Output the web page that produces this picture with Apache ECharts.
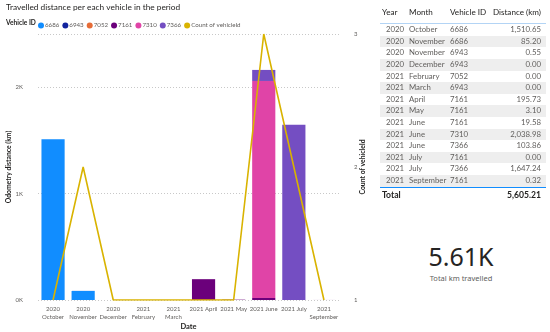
<!DOCTYPE html>
<html><head><meta charset="utf-8">
<script src="https://cdn.jsdelivr.net/npm/echarts@6/dist/echarts.min.js"></script>
<style>
html,body{margin:0;padding:0;background:#fff;}
body{width:550px;height:332px;overflow:hidden;position:relative;font-family:Lato,"Noto Sans",sans-serif;}
#chart{position:absolute;left:0;top:0;width:376px;height:332px;}
#table{position:absolute;left:0;top:0;width:550px;height:210px;pointer-events:none;}
.row{position:absolute;left:380px;width:166px;height:11.6px;line-height:11.6px;font-size:7.8px;color:#605E5C;}
.row.alt{background:#EEEEEE;}
.row span{position:absolute;top:0;white-space:nowrap;}
.hdr{color:#252423;font-size:8.1px;}
.tot{color:#252423;font-weight:bold;font-size:8.6px;}
.line{position:absolute;left:380px;width:166px;height:1px;}
#card{position:absolute;left:380px;width:162px;text-align:center;}
</style>
</head><body>
<div id="chart"></div>
<div id="table"></div>
<div id="card"></div>
<script>
// ---- data ----
const categories = ['2020\nOctober','2020\nNovember','2020\nDecember','2021\nFebruary','2021\nMarch','2021 April','2021 May','2021 June','2021 July','2021\nSeptember'];
const vehicleIds = ['6686','6943','7052','7161','7310','7366'];
const dist6686 = [1510.65, 85.20, null, null, null, null, null, null, null, null];
const dist6943 = [null, 0.55, 0, null, 0, null, null, null, null, null];
const dist7052 = [null, null, null, 0, null, null, null, null, null, null];
const dist7161 = [null, null, null, null, null, 195.73, 3.10, 19.58, 0, 0.32];
const dist7310 = [null, null, null, null, null, null, null, 2038.98, null, null];
const dist7366 = [null, null, null, null, null, null, null, 103.86, 1647.24, null];
const countVehicles = [1, 2, 1, 1, 1, 1, 1, 3, 2, 1];
const leftTicks = [0, 1000, 2000];
const rightTicks = [1, 2, 3];

const tableYears = ['2020','2020','2020','2020','2021','2021','2021','2021','2021','2021','2021','2021','2021','2021'];
const tableMonths = ['October','November','November','December','February','March','April','May','June','June','June','July','July','September'];
const tableVehicles = ['6686','6686','6943','6943','7052','6943','7161','7161','7161','7310','7366','7161','7366','7161'];
const tableDistances = ['1,510.65','85.20','0.55','0.00','0.00','0.00','195.73','3.10','19.58','2,038.98','103.86','0.00','1,647.24','0.32'];
const tableTotal = '5,605.21';
const cardValue = '5.61K';
const cardLabel = 'Total km travelled';

// ---- chart ----
const colors = ['#118DFF','#12239E','#E66C37','#6B007B','#E044A7','#744EC2','#D9B300'];
const distSeries = [dist6686, dist6943, dist7052, dist7161, dist7310, dist7366];
const font = 'Lato,"Noto Sans",sans-serif';
const chart = echarts.init(document.getElementById('chart'));
const series = vehicleIds.map((id, i) => ({
  name: id, type: 'bar', stack: 'dist', data: distSeries[i],
  itemStyle: {color: colors[i]}, barCategoryGap: '23%'
}));
series.push({
  name: 'Count of vehicleId', type: 'line', yAxisIndex: 1, data: countVehicles,
  showSymbol: false, symbol: 'none', z: 5,
  lineStyle: {color: colors[6], width: 1.6}, itemStyle: {color: colors[6]}
});
chart.setOption({
  animation: false,
  textStyle: {fontFamily: font},
  title: {text: 'Travelled distance per each vehicle in the period', left: 6, top: 3, padding: 0,
    textStyle: {fontSize: 8.3, fontWeight: 'normal', color: '#252423', fontFamily: font}},
  graphic: [{type: 'text', left: 6, top: 19.5, style: {text: 'Vehicle ID', fontSize: 6.6, fontWeight: 'bold', fill: '#252423', fontFamily: font}}],
  legend: {left: 33, top: 17.5, icon: 'circle', itemWidth: 6, itemHeight: 6, itemGap: 3,
    data: vehicleIds.concat(['Count of vehicleId']),
    textStyle: {fontSize: 6.2, color: '#605E5C', padding: [0,0,0,-4], fontFamily: font}},
  grid: {left: 38, right: 37, top: 34, bottom: 32, outerBoundsMode: 'none', containLabel: false},
  xAxis: {type: 'category', data: categories, name: 'Date', nameLocation: 'middle', nameGap: 23, nameMoveOverlap: false,
    nameTextStyle: {fontSize: 7.5, color: '#252423', fontWeight: 'bold'},
    axisLine: {show: false}, axisTick: {show: false},
    axisLabel: {interval: 0, fontSize: 6, color: '#605E5C', lineHeight: 8, margin: 5}},
  yAxis: [
    {type: 'value', min: 0, max: 2500, interval: 1000, name: 'Odometry distance (km)', nameLocation: 'middle', nameGap: 26,
     nameMoveOverlap: false,
     nameTextStyle: {fontSize: 6.8, color: '#252423', fontWeight: 'bold'},
     axisLabel: {fontSize: 6, color: '#605E5C', margin: 15, showMaxLabel: false,
       formatter: v => leftTicks.includes(v) ? (v/1000) + 'K' : ''},
     splitLine: {lineStyle: {type: [1,2], color: '#C8C8C8'}}},
    {type: 'value', min: 1, max: 3, interval: 1, name: 'Count of vehicleId', nameLocation: 'middle', nameGap: 20,
     nameRotate: 90, nameMoveOverlap: false,
     nameTextStyle: {fontSize: 6.8, color: '#252423', fontWeight: 'bold'},
     axisLabel: {fontSize: 6, color: '#605E5C', margin: 15, formatter: v => rightTicks.includes(v) ? String(v) : ''},
     splitLine: {show: false}}
  ],
  series: series
});

// ---- table ----
const tbl = document.getElementById('table');
function addRow(top, cls, cells) {
  const d = document.createElement('div');
  d.className = 'row ' + cls;
  d.style.top = top + 'px';
  cells.forEach(c => {
    const s = document.createElement('span');
    s.textContent = c.t;
    if (c.l !== undefined) s.style.left = c.l + 'px';
    if (c.r !== undefined) s.style.right = c.r + 'px';
    d.appendChild(s);
  });
  tbl.appendChild(d);
}
addRow(7, 'hdr', [{t:'Year', l:2},{t:'Month', l:29},{t:'Vehicle ID', l:70},{t:'Distance (km)', r:5}]);
const l1 = document.createElement('div'); l1.className='line'; l1.style.top='22.5px'; l1.style.background='#B3D4F5'; tbl.appendChild(l1);
tableYears.forEach((y, i) => {
  addRow(24.2 + i*11.6, i % 2 === 1 ? 'alt' : '', [
    {t:y, r:142},{t:tableMonths[i], l:29},{t:tableVehicles[i], l:70},{t:tableDistances[i], r:5}]);
});
const l2 = document.createElement('div'); l2.className='line'; l2.style.top='187px'; l2.style.background='#118DFF'; tbl.appendChild(l2);
addRow(190, 'tot', [{t:'Total', l:2},{t:tableTotal, r:5}]);

// ---- card ----
const card = document.getElementById('card');
card.style.top = '241px';
const cv = document.createElement('div'); cv.textContent = cardValue;
cv.style.cssText = 'font-family:"Noto Sans",sans-serif;font-size:25px;color:#252423;line-height:30px;';
const cl = document.createElement('div'); cl.textContent = cardLabel;
cl.style.cssText = 'font-family:"Noto Sans",sans-serif;font-size:7.5px;color:#605E5C;line-height:10px;margin-top:2px;';
card.appendChild(cv); card.appendChild(cl);
</script>
</body></html>
